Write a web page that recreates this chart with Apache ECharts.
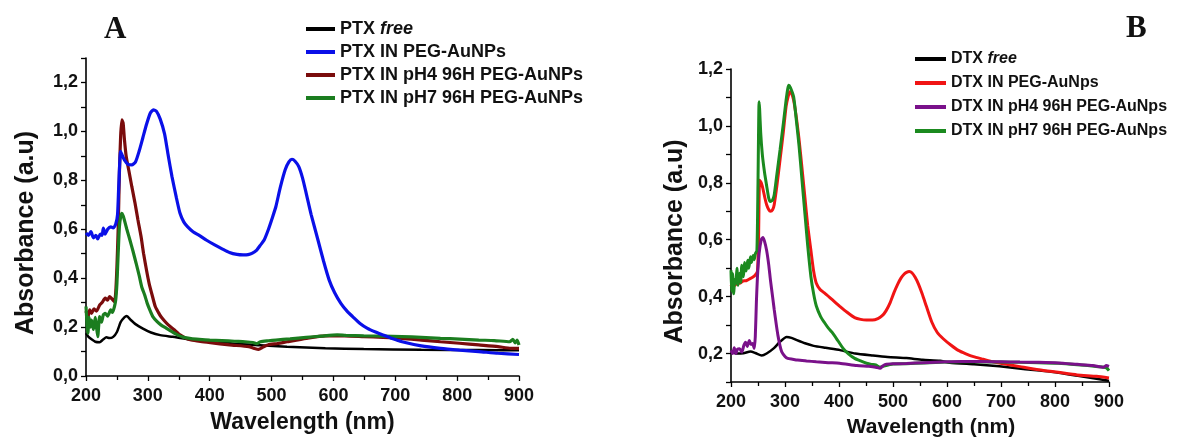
<!DOCTYPE html>
<html>
<head>
<meta charset="utf-8">
<script src="https://cdn.jsdelivr.net/npm/echarts@6/dist/echarts.min.js"></script>
<style>
html,body{margin:0;padding:0;background:#fff;}
#chart{width:1179px;height:443px;}
</style>
</head>
<body>
<div id="chart"></div>
<script>
// ---------- Panel A (PTX) : [wavelength nm, absorbance] ----------
const ptxFree = [[200,0.175],[204,0.16],[209,0.15],[215,0.14],[222,0.138],[228,0.15],[233,0.158],[238,0.155],[244,0.16],[250,0.18],[256,0.22],[262,0.24],[266,0.245],[272,0.23],[280,0.212],[292,0.194],[305,0.178],[320,0.167],[340,0.16],[373,0.148],[400,0.142],[440,0.132],[481,0.126],[525,0.12],[587,0.113],[649,0.11],[742,0.107],[835,0.106],[900,0.105]];
const ptxPeg = [[200,0.585],[204,0.575],[208,0.59],[212,0.565],[216,0.575],[219,0.56],[223,0.58],[226,0.575],[228,0.605],[231,0.58],[235,0.6],[240,0.61],[244,0.605],[248,0.62],[251,0.66],[253,0.78],[256,0.918],[259,0.9],[262,0.884],[268,0.865],[274,0.863],[280,0.875],[286,0.92],[292,0.975],[298,1.03],[304,1.075],[309,1.088],[314,1.082],[320,1.05],[327,0.99],[333,0.9],[339,0.815],[346,0.73],[352,0.665],[358,0.63],[364,0.611],[373,0.59],[383,0.575],[395,0.555],[408,0.536],[420,0.52],[432,0.505],[444,0.497],[454,0.495],[462,0.496],[469,0.502],[476,0.515],[482,0.535],[488,0.556],[495,0.6],[501,0.645],[507,0.693],[514,0.77],[522,0.843],[528,0.875],[533,0.886],[538,0.878],[544,0.856],[550,0.81],[556,0.747],[564,0.66],[575,0.556],[584,0.47],[593,0.393],[602,0.34],[612,0.297],[622,0.265],[631,0.243],[643,0.215],[655,0.195],[668,0.18],[680,0.168],[695,0.153],[711,0.14],[742,0.123],[773,0.113],[804,0.106],[835,0.1],[866,0.093],[900,0.088]];
const ptxPh4 = [[200,0.265],[203,0.24],[206,0.27],[209,0.256],[213,0.275],[217,0.265],[222,0.29],[226,0.3],[231,0.318],[235,0.31],[238,0.325],[242,0.315],[246,0.304],[248,0.34],[250,0.447],[252,0.6],[254,0.83],[256,0.98],[258,1.047],[260,1.034],[262,0.97],[265,0.897],[270,0.83],[274,0.775],[279,0.71],[284,0.638],[289,0.57],[293,0.502],[298,0.43],[302,0.379],[307,0.33],[312,0.284],[317,0.26],[321,0.243],[327,0.225],[333,0.209],[342,0.19],[352,0.168],[361,0.155],[370,0.147],[385,0.141],[401,0.136],[432,0.127],[463,0.12],[472,0.113],[479,0.109],[486,0.118],[494,0.127],[510,0.133],[525,0.14],[556,0.154],[587,0.164],[618,0.164],[649,0.161],[680,0.158],[711,0.154],[742,0.147],[773,0.14],[804,0.134],[835,0.127],[866,0.12],[887,0.113],[900,0.113]];
const ptxPh7 = [[200,0.284],[202,0.2],[203,0.175],[205,0.24],[207,0.2],[209,0.229],[212,0.19],[215,0.24],[217,0.2],[219,0.161],[222,0.243],[225,0.22],[228,0.25],[231,0.256],[235,0.245],[240,0.27],[243,0.26],[246,0.284],[248,0.31],[250,0.379],[252,0.5],[254,0.611],[256,0.65],[258,0.665],[260,0.655],[262,0.638],[266,0.6],[271,0.556],[276,0.51],[281,0.461],[286,0.41],[290,0.365],[295,0.33],[299,0.297],[304,0.265],[308,0.243],[315,0.222],[321,0.209],[330,0.195],[339,0.181],[348,0.168],[358,0.158],[370,0.153],[383,0.15],[400,0.147],[420,0.145],[440,0.142],[457,0.14],[470,0.137],[476,0.132],[482,0.14],[495,0.144],[507,0.147],[530,0.152],[556,0.158],[580,0.163],[606,0.168],[620,0.166],[649,0.164],[680,0.163],[711,0.161],[742,0.158],[773,0.154],[804,0.151],[835,0.147],[860,0.145],[885,0.14],[890,0.15],[894,0.135],[897,0.147],[900,0.127]];

// ---------- Panel B (DTX) ----------
const dtxFree = [[200,0.207],[210,0.2],[223,0.201],[236,0.207],[245,0.202],[257,0.193],[266,0.2],[279,0.218],[290,0.24],[303,0.258],[312,0.255],[322,0.247],[337,0.236],[353,0.227],[375,0.22],[402,0.212],[430,0.2],[463,0.193],[490,0.188],[525,0.184],[555,0.178],[587,0.175],[605,0.168],[650,0.162],[697,0.155],[745,0.145],[790,0.137],[845,0.121],[897,0.105],[900,0.104]];
const dtxPeg = [[200,0.436],[204,0.45],[208,0.44],[212,0.452],[216,0.447],[222,0.455],[228,0.456],[234,0.462],[240,0.468],[245,0.476],[249,0.49],[251,0.6],[253,0.809],[256,0.8],[259,0.78],[263,0.745],[266,0.723],[270,0.705],[273,0.7],[277,0.705],[280,0.723],[285,0.79],[291,0.884],[297,0.98],[302,1.068],[306,1.105],[309,1.12],[312,1.115],[316,1.09],[321,1.03],[326,0.953],[331,0.86],[337,0.746],[342,0.65],[348,0.562],[353,0.49],[358,0.447],[365,0.425],[373,0.413],[387,0.39],[401,0.367],[415,0.345],[429,0.326],[440,0.32],[451,0.318],[462,0.318],[472,0.323],[480,0.333],[487,0.35],[495,0.38],[502,0.415],[509,0.445],[515,0.466],[520,0.478],[525,0.485],[530,0.488],[535,0.484],[541,0.468],[547,0.445],[554,0.41],[562,0.365],[572,0.31],[582,0.274],[593,0.252],[607,0.23],[621,0.211],[635,0.199],[649,0.189],[667,0.18],[685,0.171],[710,0.162],[735,0.154],[770,0.143],[806,0.134],[841,0.125],[877,0.12],[900,0.114]];
const dtxPh4 = [[200,0.211],[203,0.2],[206,0.22],[209,0.2],[212,0.215],[216,0.217],[220,0.205],[224,0.23],[227,0.24],[230,0.225],[234,0.246],[237,0.232],[240,0.235],[243,0.218],[245,0.26],[247,0.38],[249,0.47],[252,0.55],[256,0.6],[259,0.608],[262,0.595],[266,0.562],[270,0.51],[273,0.459],[277,0.4],[280,0.355],[284,0.3],[287,0.263],[291,0.225],[294,0.206],[300,0.19],[305,0.183],[314,0.18],[323,0.177],[340,0.174],[358,0.171],[380,0.168],[401,0.166],[433,0.158],[455,0.155],[468,0.152],[476,0.148],[481,0.156],[486,0.162],[500,0.164],[525,0.165],[557,0.168],[600,0.171],[628,0.172],[660,0.172],[699,0.171],[735,0.17],[770,0.169],[806,0.167],[841,0.162],[870,0.158],[890,0.152],[895,0.158],[900,0.155]];
const dtxPh7 = [[200,0.493],[201,0.42],[203,0.48],[205,0.41],[207,0.46],[209,0.447],[211,0.5],[213,0.44],[216,0.482],[218,0.45],[220,0.51],[223,0.47],[225,0.52],[228,0.49],[231,0.528],[233,0.5],[236,0.54],[238,0.52],[241,0.545],[243,0.53],[245,0.55],[248,0.562],[250,0.8],[252,1.085],[253,1.06],[255,0.976],[258,0.9],[262,0.838],[266,0.79],[270,0.745],[273,0.734],[277,0.74],[280,0.757],[285,0.83],[291,0.918],[297,1.01],[302,1.09],[305,1.13],[307,1.143],[310,1.135],[316,1.102],[321,1.02],[326,0.93],[331,0.82],[337,0.689],[342,0.58],[348,0.47],[353,0.41],[358,0.367],[366,0.33],[373,0.309],[380,0.29],[387,0.275],[398,0.245],[408,0.217],[418,0.198],[429,0.183],[440,0.174],[451,0.166],[460,0.162],[468,0.16],[476,0.152],[481,0.155],[500,0.163],[525,0.164],[557,0.167],[600,0.17],[628,0.171],[660,0.171],[699,0.17],[735,0.169],[770,0.168],[806,0.166],[841,0.161],[880,0.154],[895,0.15],[900,0.14]];

const namesA = ['PTX free','PTX IN PEG-AuNPs','PTX IN pH4 96H PEG-AuNPs','PTX IN pH7 96H PEG-AuNPs'];
const namesB = ['DTX free','DTX IN PEG-AuNps','DTX IN pH4 96H PEG-AuNps','DTX IN pH7 96H PEG-AuNps'];
const xTicks = [200,300,400,500,600,700,800,900];
const yTickLabels = ['0,0','0,2','0,4','0,6','0,8','1,0','1,2'];

const F = "'Liberation Sans', Arial, sans-serif";

function yFmt(v){
  const k = Math.round(v*10);
  return k % 2 === 0 ? (yTickLabels[k/2] || '') : '';
}

function xAxisCfg(gi, nameSize, pad){
  return {
    type:'value', gridIndex:gi, min:xTicks[0], max:xTicks[xTicks.length-1], interval:100,
    name:'Wavelength (nm)', nameLocation:'middle', nameGap:35,
    nameTextStyle:{fontFamily:F, fontWeight:'bold', fontSize:nameSize, color:'#111', padding:pad},
    axisLine:{lineStyle:{color:'#000', width:1.6}},
    axisTick:{show:true, inside:false, length:5, lineStyle:{color:'#000', width:1.3}},
    minorTick:{show:true, splitNumber:2, length:4, lineStyle:{color:'#000', width:1.3}},
    splitLine:{show:false},
    axisLabel:{fontFamily:F, fontWeight:'bold', fontSize:18, color:'#111', margin:11}
  };
}
function yAxisCfg(gi, min, max, gap){
  return {
    type:'value', gridIndex:gi, min:min, max:max, interval:0.1,
    name:'Absorbance (a.u)', nameLocation:'middle', nameGap:gap, nameRotate:90,
    nameTextStyle:{fontFamily:F, fontWeight:'bold', fontSize:25, color:'#111', padding:[0,32,0,0]},
    axisLine:{show:true, lineStyle:{color:'#000', width:1.6}},
    axisTick:{show:true, inside:false, length:5, lineStyle:{color:'#000', width:1.3}},
    splitLine:{show:false},
    axisLabel:{fontFamily:F, fontWeight:'bold', fontSize:18, color:'#111', margin:8, formatter:yFmt, showMinLabel:true, showMaxLabel:true}
  };
}
function line(name, data, color, xi, w, z){
  return {name:name, type:'line', xAxisIndex:xi, yAxisIndex:xi, data:data, symbol:'none',
    smooth:0.2, lineStyle:{color:color, width:w}, itemStyle:{color:color}, z:z, silent:true};
}
function legendCfg(names, left, top, size, gap, iw, freeLabel){
  return {
    data:names, orient:'vertical', left:left, top:top, itemWidth:iw, itemHeight:4, itemGap:gap,
    icon:'rect', selectedMode:false, padding:0,
    textStyle:{fontFamily:F, fontWeight:'bold', fontSize:size, color:'#111', lineHeight:size, width:260, overflow:'none',
      rich:{n:{fontFamily:F, fontWeight:'bold', fontSize:size, color:'#111'},
            i:{fontFamily:F, fontWeight:'bold', fontStyle:'italic', fontSize:size, color:'#111'}}},
    formatter:function(n){ return n === freeLabel ? '{n|' + n.split(' ')[0] + ' }{i|free}' : n; }
  };
}

const chart = echarts.init(document.getElementById('chart'), null, {renderer:'canvas'});
chart.setOption({
  animation:false,
  backgroundColor:'#fff',
  title:[
    {text:'A', left:99, top:9, textStyle:{fontFamily:"'Liberation Serif', serif", fontWeight:'bold', fontSize:31, color:'#111'}},
    {text:'B', left:1121, top:8, textStyle:{fontFamily:"'Liberation Serif', serif", fontWeight:'bold', fontSize:31, color:'#111'}}
  ],
  legend:[
    legendCfg(namesA, 306, 20, 18, 5, 29, 'PTX free'),
    legendCfg(namesB, 915, 51, 16, 8, 31, 'DTX free')
  ],
  grid:[
    {left:86, right:660, top:58, bottom:67},
    {left:731, right:70, top:69, bottom:56}
  ],
  xAxis:[xAxisCfg(0, 23, [0,0,0,0]), xAxisCfg(1, 21, [0,0,0,22])],
  yAxis:[yAxisCfg(0, 0, 1.3, 47), yAxisCfg(1, 0.1, 1.2, 43)],
  series:[
    line(namesA[0], ptxFree, '#000000', 0, 2.5, 2),
    line(namesA[1], ptxPeg, '#0a10e8', 0, 3.2, 5),
    line(namesA[2], ptxPh4, '#7a0c0c', 0, 3.2, 3),
    line(namesA[3], ptxPh7, '#1b7d1f', 0, 3.2, 4),
    line(namesB[0], dtxFree, '#000000', 1, 2.5, 2),
    line(namesB[1], dtxPeg, '#f01414', 1, 3, 3),
    line(namesB[2], dtxPh4, '#7a118a', 1, 3, 5),
    line(namesB[3], dtxPh7, '#1b8a1f', 1, 3, 4)
  ]
});
</script>
</body>
</html>
